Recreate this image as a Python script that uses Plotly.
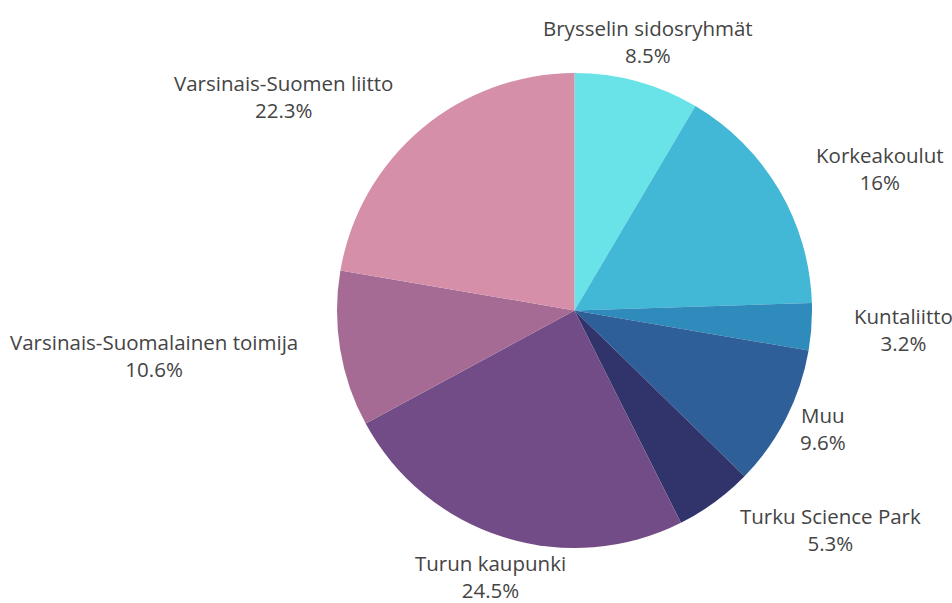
import math
import plotly.graph_objects as go

labels = ["Brysselin sidosryhmät", "Korkeakoulut", "Kuntaliitto", "Muu",
          "Turku Science Park", "Turun kaupunki",
          "Varsinais-Suomalainen toimija", "Varsinais-Suomen liitto"]
values = [8.5, 16.0, 3.2, 9.6, 5.3, 24.5, 10.6, 22.3]
colors = ["#6ae3e8", "#42b7d6", "#2e8bbb", "#2e5f98", "#31336b",
          "#724c86", "#a56b94", "#d58fa8"]

# label styling (anchor side and small vertical nudges, in px)
label_anchor = ["center", "left", "left", "center", "left", "center", "right", "right"]
label_yshift = [0, 0, 0, 9, 6, 0, 0, 0]
LABEL_R = 1.176  # label radius relative to pie radius

# layout geometry (pixels)
W, H = 952, 603
R_PX = 237.5
CX_PX = 574.5
CY_PX = 310.5

pie_dom_x = [(CX_PX - R_PX) / W, (CX_PX + R_PX) / W]
pie_dom_y = [(H - CY_PX - R_PX) / H, (H - CY_PX + R_PX) / H]

fig = go.Figure()
fig.add_trace(go.Pie(
    labels=labels, values=values, sort=False, direction="clockwise",
    rotation=0,
    marker=dict(colors=colors, line=dict(width=0)),
    textinfo="none",
    showlegend=False,
    domain=dict(x=pie_dom_x, y=pie_dom_y),
))

total = sum(values)
cum = 0.0
for lab, v, anc, ys in zip(labels, values, label_anchor, label_yshift):
    mid = (cum + v / 2) / total * 2 * math.pi
    cum += v
    pct = f"{v / total * 100:.1f}".rstrip("0").rstrip(".") + "%"
    fig.add_annotation(
        x=LABEL_R * math.sin(mid), y=LABEL_R * math.cos(mid),
        xref="x", yref="y", text=f"{lab}<br>{pct}",
        showarrow=False, xanchor=anc, yanchor="middle", align="center",
        yshift=ys, borderpad=0,
        font=dict(family="Open Sans", size=20.5, color="#444"),
    )

fig.update_xaxes(domain=[0, 1], range=[-CX_PX / R_PX, (W - CX_PX) / R_PX],
                 visible=False, fixedrange=True)
fig.update_yaxes(domain=[0, 1], range=[-(H - CY_PX) / R_PX, CY_PX / R_PX],
                 visible=False, fixedrange=True)
fig.update_layout(
    width=W, height=H,
    margin=dict(l=0, r=0, t=0, b=0),
    paper_bgcolor="white", plot_bgcolor="rgba(0,0,0,0)",
    font=dict(family="Open Sans", size=20.5, color="#444"),
)
fig.write_html(
    "out.html",
    config={"displayModeBar": False},
    post_script="document.body.style.margin='0';document.body.style.overflow='hidden';",
)
